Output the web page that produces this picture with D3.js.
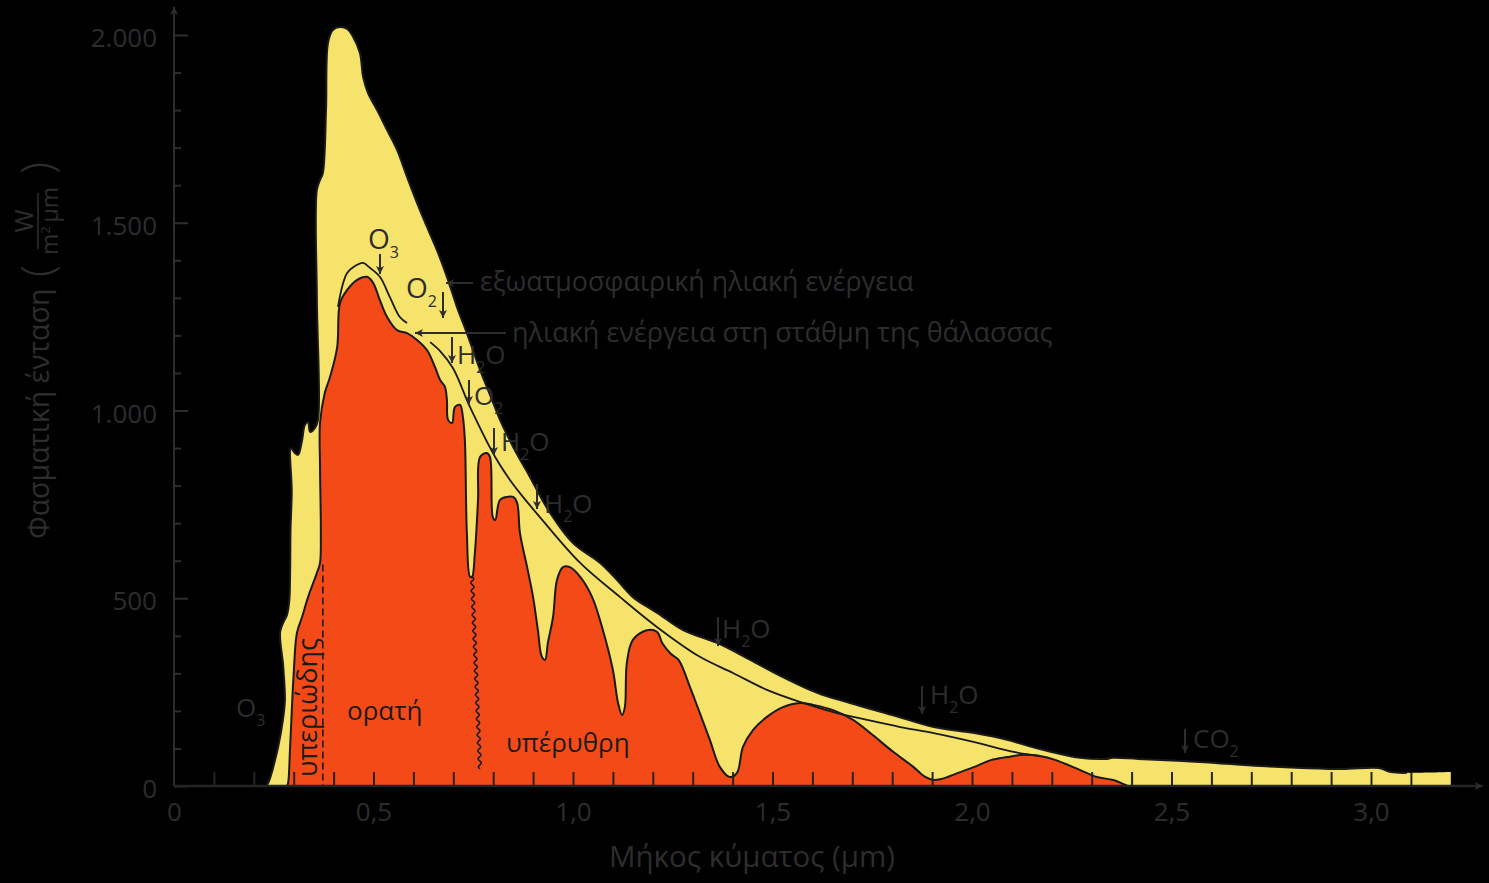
<!DOCTYPE html>
<html><head><meta charset="utf-8">
<script src="https://cdn.jsdelivr.net/npm/d3@7"></script>
<style>
html,body{margin:0;padding:0;background:#000;}
svg{display:block;}
text{font-family:"Open Sans","Noto Sans",sans-serif;}
</style></head><body>
<svg id="c" width="1489" height="883"></svg>
<script>
// ---------- DATA (wavelength µm, spectral irradiance W/m²/µm) ----------
const extraterrestrial = [
 [0.230,0],[0.236,8],[0.261,104],[0.273,176],[0.278,229],[0.275,300],[0.273,328],[0.266,410],[0.276,440],[0.283,455],
 [0.289,495],[0.291,567],[0.292,682],[0.295,788],[0.291,895],[0.293,900],[0.303,887],[0.311,882],[0.321,921],[0.328,961],
 [0.336,969],[0.341,943],[0.353,953],[0.361,975],[0.358,1300],[0.358,1587],[0.366,1614],[0.373,1632],[0.381,1800],[0.386,1979],
 [0.398,2013],[0.416,2021],[0.434,2016],[0.449,1995],[0.466,1952],[0.474,1888],[0.486,1846],[0.509,1800],[0.534,1747],[0.559,1694],
 [0.584,1622],[0.609,1553],[0.634,1489],[0.659,1427],[0.684,1356],[0.709,1276],[0.734,1206],[0.767,1108],[0.799,1023],[0.817,975],
 [0.850,903],[0.892,823],[0.935,740],[1.000,647],[1.068,594],[1.110,549],[1.150,503],[1.211,461],[1.276,415],[1.361,381],
 [1.444,336],[1.526,290],[1.612,248],[1.694,221],[1.800,189],[1.904,157],[2.006,141],[2.088,123],[2.160,101],[2.230,83],
 [2.270,75],[2.334,72],[2.354,75],[2.416,72],[2.570,64],[2.723,53],[2.826,48],[2.928,45],[3.020,48],[3.050,37],[3.090,35],[3.200,37]
];
const seaLevel = [
 [0.283,0],[0.286,8],[0.291,104],[0.300,300],[0.308,407],[0.321,450],[0.336,503],[0.358,567],[0.366,594],[0.368,674],
 [0.366,850],[0.366,967],[0.378,1047],[0.391,1089],[0.409,1169],[0.416,1286],[0.434,1321],[0.459,1348],[0.484,1356],[0.499,1340],
 [0.516,1294],[0.534,1249],[0.559,1214],[0.584,1206],[0.609,1188],[0.634,1161],[0.654,1116],[0.667,1081],[0.679,1063],[0.684,1028],
 [0.687,975],[0.697,967],[0.704,1009],[0.717,1015],[0.724,983],[0.729,921],[0.734,674],[0.742,557],[0.747,557],[0.754,620],
 [0.762,762],[0.767,876],[0.784,887],[0.792,876],[0.799,716],[0.805,708],[0.817,762],[0.835,770],[0.850,770],[0.860,754],
 [0.867,674],[0.885,583],[0.900,503],[0.912,415],[0.922,344],[0.930,336],[0.937,381],[0.950,450],[0.960,549],[0.975,583],
 [0.992,583],[1.018,557],[1.048,503],[1.075,415],[1.100,309],[1.113,221],[1.123,189],[1.130,210],[1.135,328],[1.150,389],
 [1.185,415],[1.211,410],[1.224,380],[1.245,352],[1.265,335],[1.293,264],[1.318,194],[1.343,123],[1.368,51],[1.393,24],[1.411,35],
 [1.426,104],[1.451,149],[1.486,184],[1.526,210],[1.569,221],[1.602,216],[1.652,202],[1.702,176],[1.752,135],[1.800,93],
 [1.853,51],[1.883,24],[1.904,16],[1.924,19],[1.965,35],[2.006,51],[2.047,69],[2.088,77],[2.129,83],[2.170,80],
 [2.210,69],[2.270,43],[2.313,24],[2.354,16],[2.380,5],[2.390,0]
];
const referenceCurveA = [
 [0.411,1276],[0.434,1366],[0.459,1388],[0.474,1393],[0.491,1380],[0.516,1356],[0.541,1302],[0.566,1249],[0.584,1233]
];
const referenceCurveB = [
 [0.642,1182],[0.667,1158],[0.699,1113],[0.742,1009],[0.805,876],[0.842,815],[0.867,780],[0.917,716],[1.018,594],[1.118,503],
 [1.211,423],[1.318,344],[1.401,301],[1.486,256],[1.569,224],[1.652,197],[1.737,176],[1.820,157],[1.904,141],[2.006,117],
 [2.108,90],[2.170,80]
];
const visibleLimit = [0.747, 557, 0.767, 45];   // wavy boundary: λ top, value top, λ bottom, value bottom
const uvLimit = [0.373, 590];                    // dashed boundary λ, top value
const xLabelValues = [0, 0.5, 1.0, 1.5, 2.0, 2.5, 3.0];
const xLabelTexts  = ["0", "0,5", "1,0", "1,5", "2,0", "2,5", "3,0"];
const xMinorTicks  = [0.1,0.2,0.3,0.4,0.5,0.6,0.7,0.8,0.9,1.0,1.1,1.2,1.3,1.4,1.5,1.6,1.7,1.8,1.9,2.0,2.1,2.2,2.3,2.4,2.5,2.6,2.7,2.8,2.9,3.0,3.1];
const yLabelValues = [0, 500, 1000, 1500, 2000];
const yLabelTexts  = ["0", "500", "1.000", "1.500", "2.000"];
const yMinorTicks  = [100,200,300,400,600,700,800,900,1100,1200,1300,1400,1600,1700,1800,1900];

// ---------- DRAW ----------
const YEL = "#F5E36B", ORG = "#F34A17", INK = "#1a1a1a", GRY = "#2d2d2d";
const svg = d3.select("#c");
const x = d3.scaleLinear().domain([0, 3.2]).range([174, 174 + 3.2 * 399]);
const y = d3.scaleLinear().domain([0, 2000]).range([786, 35]);

const defs = svg.append("defs");
function marker(id, w, h) {
  defs.append("marker").attr("id", id).attr("viewBox", "0 0 10 10")
    .attr("refX", 10).attr("refY", 5).attr("markerUnits", "userSpaceOnUse")
    .attr("markerWidth", w).attr("markerHeight", h).attr("orient", "auto")
    .append("path").attr("d", "M0,0L10,5L0,10L2.5,5z").attr("fill", GRY);
}
marker("ah", 10, 8);
marker("axh", 10, 8);

const curve = d3.curveCatmullRom.alpha(0.5);
const area = d3.area().x(d => x(d[0])).y0(y(0)).y1(d => y(d[1])).curve(curve);
const line = d3.line().x(d => x(d[0])).y(d => y(d[1])).curve(curve);

svg.append("path").datum(extraterrestrial).attr("d", area).attr("fill", YEL);
svg.append("path").datum(extraterrestrial.slice(0, -1)).attr("d", line)
  .attr("fill", "none").attr("stroke", INK).attr("stroke-width", 2);
svg.append("path").datum(seaLevel).attr("d", area).attr("fill", ORG);
svg.append("path").datum(seaLevel).attr("d", line)
  .attr("fill", "none").attr("stroke", INK).attr("stroke-width", 2);
[referenceCurveA, referenceCurveB].forEach(c =>
  svg.append("path").datum(c).attr("d", line).attr("fill", "none")
    .attr("stroke", INK).attr("stroke-width", 1.8));

// wavy visible/IR boundary
(function () {
  const [l0, v0, l1, v1] = visibleLimit;
  const ya = y(v0), yb = y(v1), pts = [];
  for (let yy = ya; yy <= yb; yy += 1) {
    const t = (yy - ya) / (yb - ya);
    const xx = x(l0) + t * (x(l1) - x(l0)) + 1.6 * Math.sin((yy - ya) / 8 * 2 * Math.PI);
    pts.push([xx, yy]);
  }
  svg.append("path").attr("d", d3.line()(pts)).attr("fill", "none")
    .attr("stroke", INK).attr("stroke-width", 1.5);
})();
// dashed UV boundary
svg.append("line").attr("x1", x(uvLimit[0])).attr("x2", x(uvLimit[0]))
  .attr("y1", y(uvLimit[1])).attr("y2", y(0))
  .attr("stroke", INK).attr("stroke-width", 1.6).attr("stroke-dasharray", "7,4");

// axes
const gx = svg.append("g").attr("transform", `translate(0,${y(0)})`)
  .call(d3.axisBottom(x).tickValues(xMinorTicks).tickSize(-14).tickFormat(""));
gx.select(".domain").remove();
gx.selectAll("line").attr("stroke", "#242424").attr("stroke-width", 2);
const gxl = svg.append("g").attr("transform", `translate(0,${y(0)})`)
  .call(d3.axisBottom(x).tickValues(xLabelValues).tickSize(0).tickPadding(17)
    .tickFormat((d, i) => xLabelTexts[i]));
gxl.select(".domain").remove();
gxl.selectAll("text").attr("fill", GRY).attr("font-size", 26)
  .attr("font-family", '"Open Sans","Noto Sans",sans-serif');

const gy = svg.append("g").attr("transform", `translate(${x(0)},0)`)
  .call(d3.axisLeft(y).tickValues(yLabelValues).tickSize(-14).tickPadding(17)
    .tickFormat((d, i) => yLabelTexts[i]));
gy.select(".domain").remove();
gy.selectAll("line").attr("stroke", GRY).attr("stroke-width", 2);
gy.selectAll("text").attr("fill", GRY).attr("font-size", 26).attr("dy", "0.45em")
  .attr("font-family", '"Open Sans","Noto Sans",sans-serif');
const gym = svg.append("g").attr("transform", `translate(${x(0)},0)`)
  .call(d3.axisLeft(y).tickValues(yMinorTicks).tickSize(-7).tickFormat(""));
gym.select(".domain").remove();
gym.selectAll("line").attr("stroke", GRY).attr("stroke-width", 2);

svg.append("line").attr("x1", x(0)).attr("x2", x(3.28)).attr("y1", y(0)).attr("y2", y(0))
  .attr("stroke", "#242424").attr("stroke-width", 2.4).attr("marker-end", "url(#axh)");
svg.append("line").attr("x1", x(0)).attr("x2", x(0)).attr("y1", y(0)).attr("y2", y(2075))
  .attr("stroke", GRY).attr("stroke-width", 2).attr("marker-end", "url(#axh)");

// axis titles
svg.append("text").attr("x", 752).attr("y", 867).attr("text-anchor", "middle")
  .attr("fill", GRY).attr("font-size", 29.5).text("Μήκος κύματος (μm)");
const yl = svg.append("g").attr("transform", "translate(49,539) rotate(-90)");
yl.append("text").attr("x", 0).attr("y", 0).attr("fill", GRY).attr("font-size", 28.5).text("Φασματική ένταση");
yl.append("text").attr("x", 268).attr("y", 4).attr("text-anchor", "middle").attr("fill", GRY)
  .attr("font-size", 44).attr("font-weight", 300).text("(");
yl.append("text").attr("x", 318).attr("y", -16).attr("text-anchor", "middle").attr("fill", GRY)
  .attr("font-size", 25).text("W");
yl.append("line").attr("x1", 290).attr("x2", 346).attr("y1", -11).attr("y2", -11)
  .attr("stroke", GRY).attr("stroke-width", 1.6);
const den = yl.append("text").attr("x", 318).attr("y", 9).attr("text-anchor", "middle")
  .attr("fill", GRY).attr("font-size", 23);
den.append("tspan").text("m");
den.append("tspan").attr("dy", -8).attr("font-size", 13).text("2");
den.append("tspan").attr("dy", 8).text("\u2009μm");
yl.append("text").attr("x", 371).attr("y", 4).attr("text-anchor", "middle").attr("fill", GRY)
  .attr("font-size", 44).attr("font-weight", 300).text(")");

// chemical labels
function chem(px, py, parts, size) {
  const t = svg.append("text").attr("x", px).attr("y", py).attr("fill", GRY).attr("font-size", size || 26);
  let low = false;
  parts.forEach(p => {
    const isSub = /\d/.test(p);
    const ts = t.append("tspan").text(p);
    if (isSub && !low) { ts.attr("dy", 9).attr("font-size", 16); low = true; }
    else if (!isSub && low) { ts.attr("dy", -9); low = false; }
  });
}
function down(px, y1, y2) {
  svg.append("line").attr("x1", px).attr("x2", px).attr("y1", y1).attr("y2", y2)
    .attr("stroke", GRY).attr("stroke-width", 2).attr("marker-end", "url(#ah)");
}
chem(368, 249, ["O", "3"], 28); down(380, 254, 274);
chem(406, 298, ["O", "2"], 28); down(443, 292, 318);
chem(457, 364, ["H", "2", "O"]); down(452, 337, 363);
chem(474, 405, ["O", "2"]); down(469, 380, 404);
chem(501, 451, ["H", "2", "O"]); down(494, 428, 455);
chem(544, 513, ["H", "2", "O"]); down(537, 484, 509);
chem(722, 638, ["H", "2", "O"]); down(718, 617, 646);
chem(930, 704, ["H", "2", "O"]); down(922, 686, 714);
chem(1193, 748, ["CO", "2"]); down(1185, 729, 753);
chem(236, 717, ["O", "3"]);

// curve annotations
svg.append("line").attr("x1", 473).attr("x2", 446).attr("y1", 283).attr("y2", 283)
  .attr("stroke", GRY).attr("stroke-width", 2).attr("marker-end", "url(#ah)");
svg.append("text").attr("x", 480).attr("y", 291).attr("fill", GRY).attr("font-size", 26.8)
  .text("εξωατμοσφαιρική ηλιακή ενέργεια");
svg.append("line").attr("x1", 506).attr("x2", 415).attr("y1", 333).attr("y2", 333)
  .attr("stroke", GRY).attr("stroke-width", 2).attr("marker-end", "url(#ah)");
svg.append("text").attr("x", 512).attr("y", 342).attr("fill", GRY).attr("font-size", 27)
  .text("ηλιακή ενέργεια στη στάθμη της θάλασσας");

// band labels
svg.append("text").attr("x", 347).attr("y", 720).attr("fill", INK).attr("font-size", 26).text("ορατή");
svg.append("text").attr("x", 506).attr("y", 752).attr("fill", INK).attr("font-size", 26).text("υπέρυθρη");
svg.append("text").attr("transform", "translate(317,777) rotate(-90)").attr("fill", INK)
  .attr("font-size", 27).text("υπεριώδης");
</script>
</body></html>
